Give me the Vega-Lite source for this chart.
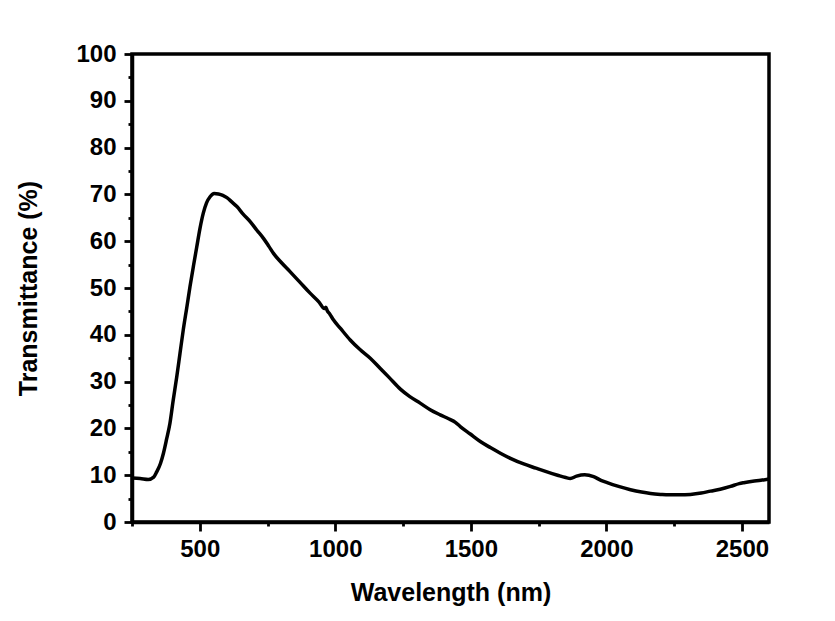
{
  "$schema": "https://vega.github.io/schema/vega-lite/v6.json",
  "autosize": "none",
  "width": 637,
  "height": 468,
  "padding": {"left": 132, "top": 54, "right": 66, "bottom": 99},
  "background": "white",
  "view": {"stroke": "black", "strokeWidth": 3.5},
  "config": {
    "font": "Liberation Sans",
    "axis": {
      "domainColor": "black", "domainWidth": 3.5,
      "tickColor": "black", "tickWidth": 2.8,
      "labelFont": "Liberation Sans", "labelFontWeight": "bold", "labelFontSize": 24, "labelColor": "black",
      "titleFont": "Liberation Sans", "titleFontWeight": "bold", "titleFontSize": 25, "titleColor": "black",
      "grid": false, "labelOverlap": false
    }
  },
  "data": {"values": [
    {"w":250,"t":9.4},{"w":280,"t":9.3},{"w":310,"t":9.1},{"w":330,"t":9.6},{"w":341,"t":10.7},{"w":355,"t":12.5},{"w":366,"t":14.7},{"w":378,"t":17.8},{"w":390,"t":21.1},{"w":402,"t":26},{"w":415,"t":31},{"w":427,"t":36},{"w":439,"t":41},{"w":452,"t":45.8},{"w":464,"t":50.3},{"w":477,"t":54.8},{"w":489,"t":58.8},{"w":501,"t":62.8},{"w":513,"t":66},{"w":525,"t":68.2},{"w":538,"t":69.5},{"w":553,"t":70.2},{"w":569,"t":70.1},{"w":585,"t":69.8},{"w":600,"t":69.3},{"w":618,"t":68.4},{"w":637,"t":67.4},{"w":660,"t":65.8},{"w":686,"t":64.2},{"w":710,"t":62.4},{"w":735,"t":60.6},{"w":755,"t":58.9},{"w":772,"t":57.4},{"w":800,"t":55.5},{"w":833,"t":53.5},{"w":870,"t":51.2},{"w":907,"t":48.9},{"w":940,"t":47},{"w":960,"t":45.6},{"w":965,"t":45.9},{"w":970,"t":45.2},{"w":980,"t":44.4},{"w":993,"t":43.2},{"w":1020,"t":41.3},{"w":1055,"t":38.9},{"w":1090,"t":36.9},{"w":1129,"t":35},{"w":1166,"t":32.8},{"w":1200,"t":30.8},{"w":1240,"t":28.4},{"w":1275,"t":26.8},{"w":1313,"t":25.4},{"w":1350,"t":24},{"w":1387,"t":22.9},{"w":1420,"t":22},{"w":1443,"t":21.3},{"w":1461,"t":20.4},{"w":1498,"t":18.8},{"w":1535,"t":17.2},{"w":1572,"t":15.9},{"w":1609,"t":14.7},{"w":1646,"t":13.6},{"w":1695,"t":12.4},{"w":1740,"t":11.5},{"w":1781,"t":10.7},{"w":1820,"t":10},{"w":1850,"t":9.5},{"w":1867,"t":9.3},{"w":1890,"t":9.8},{"w":1920,"t":10.1},{"w":1953,"t":9.7},{"w":1980,"t":8.9},{"w":2003,"t":8.4},{"w":2045,"t":7.6},{"w":2089,"t":6.9},{"w":2130,"t":6.4},{"w":2163,"t":6.1},{"w":2200,"t":5.9},{"w":2230,"t":5.8},{"w":2270,"t":5.8},{"w":2310,"t":5.9},{"w":2350,"t":6.2},{"w":2384,"t":6.6},{"w":2420,"t":7},{"w":2458,"t":7.6},{"w":2490,"t":8.2},{"w":2507,"t":8.4},{"w":2540,"t":8.7},{"w":2570,"t":8.9},{"w":2600,"t":9.2}
  ]},
  "mark": {"type": "line", "color": "black", "strokeWidth": 3.5, "interpolate": "monotone", "clip": true},
  "encoding": {
    "x": {
      "field": "w", "type": "quantitative",
      "scale": {"domain": [250, 2600], "nice": false, "zero": false},
      "axis": {
        "title": "Wavelength (nm)",
        "values": [250, 500, 750, 1000, 1250, 1500, 1750, 2000, 2250, 2500],
        "labelExpr": "datum.value % 500 === 0 ? datum.label : ''",
        "format": "d",
        "tickSize": {"condition": {"test": "datum.value % 500 === 0", "value": 9}, "value": 4},
        "labelPadding": 6,
        "titlePadding": 19
      }
    },
    "y": {
      "field": "t", "type": "quantitative",
      "scale": {"domain": [0, 100], "nice": false},
      "axis": {
        "title": "Transmittance (%)",
        "values": [0, 5, 10, 15, 20, 25, 30, 35, 40, 45, 50, 55, 60, 65, 70, 75, 80, 85, 90, 95, 100],
        "labelExpr": "datum.value % 10 === 0 ? datum.label : ''",
        "tickSize": {"condition": {"test": "datum.value % 10 === 0", "value": 8}, "value": 4},
        "labelPadding": 8,
        "titlePadding": 34
      }
    }
  }
}
